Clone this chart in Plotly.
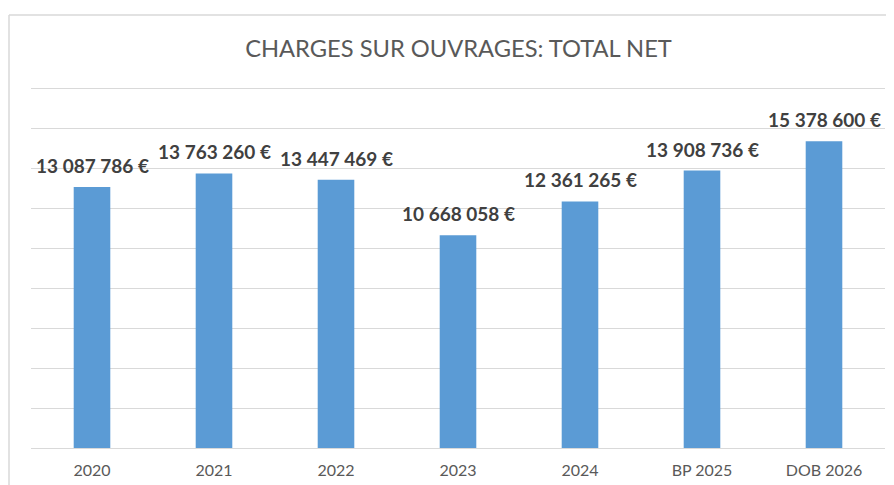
import plotly.graph_objects as go

categories = ["2020", "2021", "2022", "2023", "2024", "BP 2025", "DOB 2026"]
values = [13087786, 13763260, 13447469, 10668058, 12361265, 13908736, 15378600]
title_text = "CHARGES SUR OUVRAGES: TOTAL NET"

def fmt(v):
    return f"{v:,}".replace(",", " ") + " €"

labels = [fmt(v) for v in values]

fig = go.Figure()
fig.add_trace(go.Bar(
    x=categories, y=values,
    marker=dict(color="#5B9BD5", line=dict(width=0)),
    hoverinfo="skip",
))

annotations = [
    dict(x=i, y=v, text=t, showarrow=False, xref="x", yref="y",
         yanchor="bottom", yshift=8,
         font=dict(family="Lato, Open Sans, sans-serif", size=19, color="#404040", weight="bold"))
    for i, (v, t) in enumerate(zip(values, labels))
]

# page body has an 8px margin, so the figure is sized to fill the rest of the window
W, H = 886, 477
YMAX = 18.5e6
ph = round(359 * YMAX / 18e6)
L, R, B = 23, 9, 37
T = H - B - ph
pw = W - L - R

fig.update_layout(
    width=W, height=H,
    margin=dict(l=L, r=R, t=T, b=B, pad=0, autoexpand=False),
    paper_bgcolor="white", plot_bgcolor="white",
    bargap=0.70,
    showlegend=False,
    title=dict(text=title_text, x=450.5 / W, xanchor="center", y=1 - 41 / H,
               yanchor="middle",
               font=dict(family="Lato, Open Sans, sans-serif", size=23.7, color="#595959")),
    xaxis=dict(type="category", range=[-0.5, len(categories) - 0.5], showgrid=False,
               showline=False, ticks="", automargin=False,
               tickfont=dict(family="Lato, Open Sans, sans-serif", size=16, color="#595959"),
               ticklabelstandoff=11),
    yaxis=dict(range=[0, YMAX], tickvals=[2e6 * k for k in range(10)],
               showticklabels=False, showgrid=True, automargin=False,
               gridcolor="#D9D9D9", gridwidth=1, zeroline=True, zerolinecolor="#D9D9D9",
               zerolinewidth=1, showline=False, fixedrange=True),
    annotations=annotations,
    shapes=[
        dict(type="line", xref="paper", yref="paper",
             x0=(1 - L) / pw, x1=(W + 20 - L) / pw,
             y0=(H - B - 7) / ph, y1=(H - B - 7) / ph,
             line=dict(color="#D9D9D9", width=1.5)),
        dict(type="line", xref="paper", yref="paper",
             x0=(1 - L) / pw, x1=(1 - L) / pw,
             y0=(H - B - 7) / ph, y1=-(B + 20) / ph,
             line=dict(color="#D9D9D9", width=1.5)),
    ],
)

fig.write_html("out.html")
